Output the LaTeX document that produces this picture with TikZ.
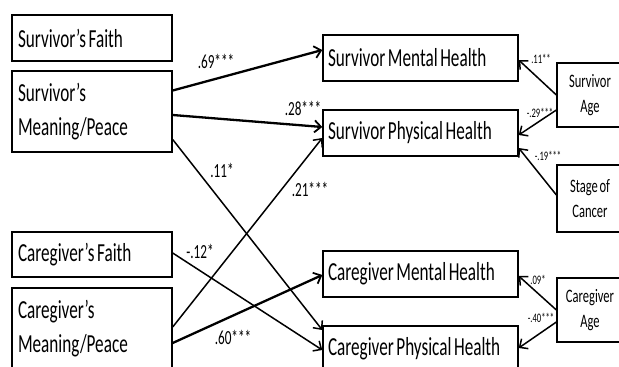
\documentclass[tikz,border=0pt]{standalone}
\usepackage{fontspec}
\setmainfont[FakeStretch=0.66, WordSpace=0.6]{Carlito}
\usepackage{tikz}
\usetikzlibrary{arrows.meta,positioning}

\begin{document}
\begin{tikzpicture}[
    x=1pt, y=-1pt,
    every node/.style={inner sep=0pt},
    lbox/.style={draw, line width=1.4pt, minimum width=160pt, minimum height=#1, text width=148pt, align=left, font=\fontsize{26}{34}\selectfont, execute at begin node={\spaceskip=2.6pt\relax}},
    mbox/.style={draw, line width=1.4pt, minimum width=195pt, minimum height=46pt, text width=185pt, align=left, font=\fontsize{26}{32}\selectfont, execute at begin node={\spaceskip=2.6pt\relax}},
    rbox/.style={draw, line width=1.2pt, minimum width=66pt, minimum height=#1, align=center, font=\fontsize{19}{25}\selectfont},
    coef/.style={font=\fontsize{20}{22}\selectfont},
    smallcoef/.style={font=\fontsize{13}{14}\selectfont},
    thick path/.style={line width=2.3pt, -{Straight Barb[length=6.5pt,width=12pt,line width=1.8pt]}},
    thin path/.style={line width=1.5pt, -{Straight Barb[length=6.5pt,width=12pt,line width=1.5pt]}}
]
    \useasboundingbox (0,0) rectangle (619,367);

    % Predictors
    \node[lbox=46pt] (sfaith) at (92, 38) {Survivor's Faith};
    \node[lbox=81pt] (smean) at (92, 111.5) {Survivor's\\Meaning/Peace};
    \node[lbox=45pt] (cfaith) at (92, 254.5) {Caregiver's Faith};
    \node[lbox=81pt] (cmean) at (92, 328.5) {Caregiver's\\Meaning/Peace};

    % Outcomes
    \node[mbox] (smh) at (420.5, 58) {Survivor Mental Health};
    \node[mbox] (sph) at (420.5, 133) {Survivor Physical Health};
    \node[mbox] (cmh) at (420.5, 274) {Caregiver Mental Health};
    \node[mbox] (cph) at (420.5, 349) {Caregiver Physical Health};

    % Covariates
    \node[rbox=64pt] (sage) at (590, 95) {Survivor\\Age};
    \node[rbox=67pt] (stage) at (590, 198.5) {Stage of\\Cancer};
    \node[rbox=64pt] (cage) at (590, 310) {Caregiver\\Age};

    % Paths from meaning and faith
    \draw[thick path] ([yshift=21pt]smean.east) -- ([yshift=8pt]smh.west);
    \draw[thick path] ([yshift=-3.5pt]smean.east) -- ([yshift=6pt]sph.west);
    \draw[thin path] ([yshift=-28pt]smean.east) -- ([yshift=19pt]cph.west);
    \draw[thin path] ([yshift=1.5pt]cmean.east) -- ([yshift=-5pt]sph.west);
    \draw[thin path] ([yshift=1.5pt]cfaith.east) -- ([yshift=-1pt]cph.west);
    \draw[thick path] ([yshift=-14.5pt]cmean.east) -- ([yshift=-1pt]cmh.west);

    % Paths from covariates
    \draw[thin path] (sage.west) -- ([yshift=-2pt]smh.east);
    \draw[thin path] ([yshift=-15pt]sage.west) -- ([yshift=-2pt]sph.east);
    \draw[thin path] ([yshift=3.5pt]stage.west) -- ([yshift=-15pt]sph.east);
    \draw[thin path] (cage.west) -- ([yshift=-2pt]cmh.east);
    \draw[thin path] ([yshift=-12pt]cage.west) -- ([yshift=1pt]cph.east);

    % Coefficients
    \node[coef] (c69) at (216, 61) {.69***};
    \node[coef] (c28) at (303, 108) {.28***};
    \node[coef] (c11) at (222, 170) {.11*};
    \node[coef] (c21) at (310, 189) {.21***};
    \node[coef] (c12) at (200, 251) {-.12*};
    \node[coef] (c60) at (233, 337) {.60***};
    \node[smallcoef] (c11b) at (541, 59) {.11**};
    \node[smallcoef] (c29) at (540, 113) {-.29***};
    \node[smallcoef] (c19) at (548, 156) {-.19***};
    \node[smallcoef] (c09) at (538, 280) {.09*};
    \node[smallcoef] (c40) at (541, 318) {-.40***};
\end{tikzpicture}
\end{document}
